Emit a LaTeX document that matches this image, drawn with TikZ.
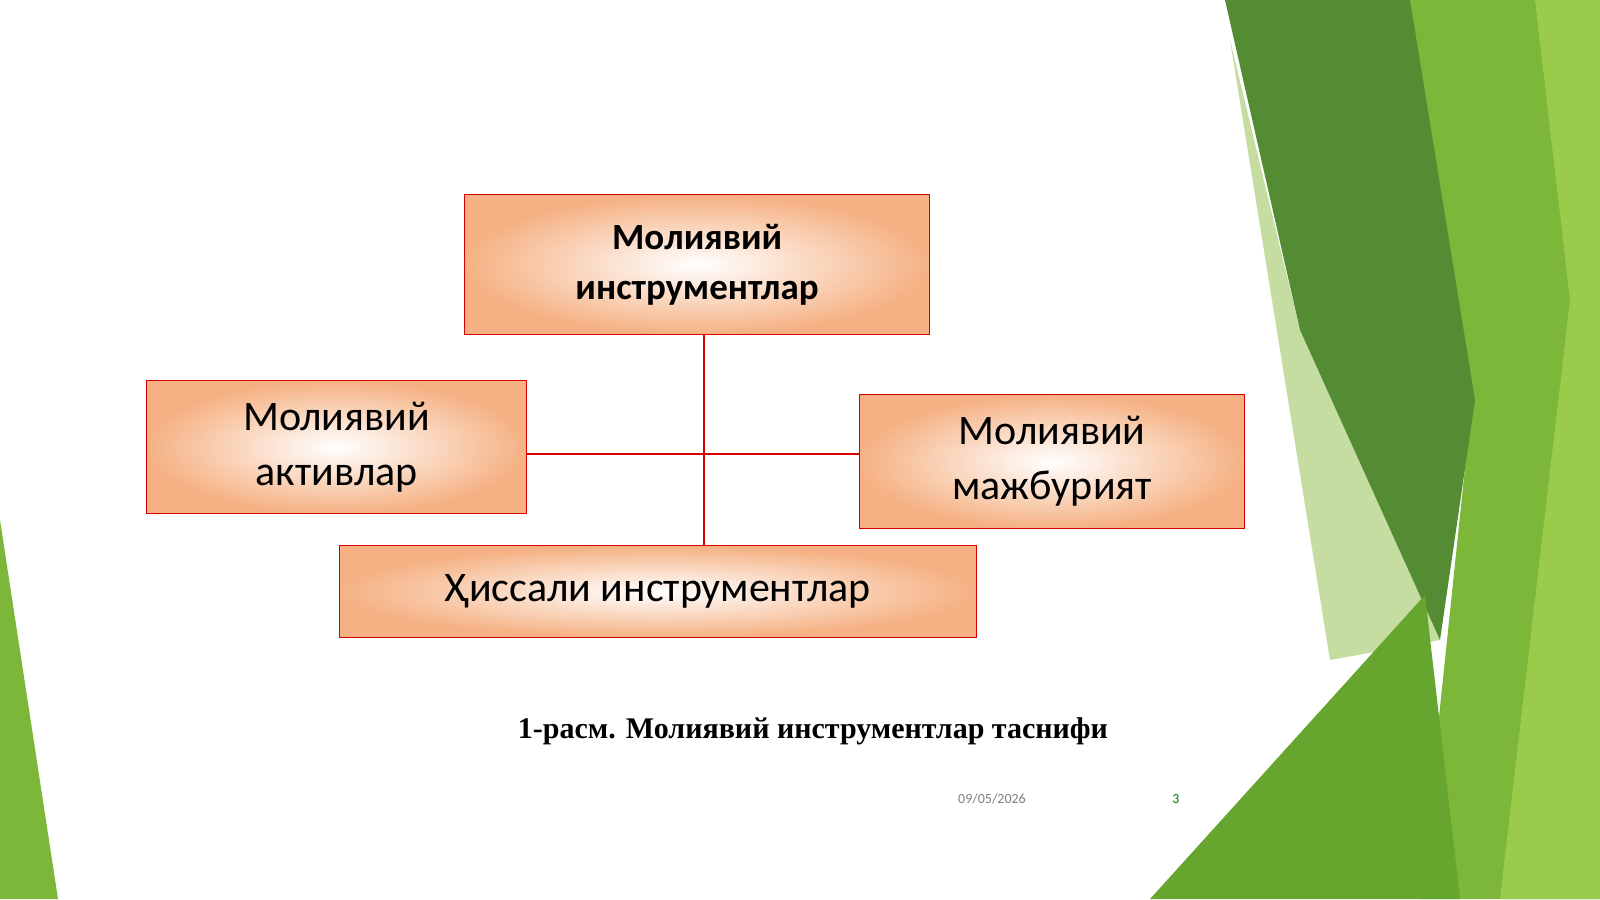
\documentclass[tikz,border=0pt]{standalone}
\usepackage{fontspec}
\setmainfont{Carlito}
\newfontfamily\capfont{Liberation Serif}
\begin{document}
\begin{tikzpicture}[x=1pt,y=-1pt,
 box/.style={draw=red!85!black,line width=1.3pt,inner color=white,outer color=peach,shading=radial,align=center,font=\fontsize{42}{55}\selectfont},
 link/.style={draw=red!85!black,line width=1.2pt}]
\definecolor{peach}{HTML}{F5B183}
\useasboundingbox (0,0) rectangle (1600,899);
\fill[white] (0,0) rectangle (1600,899);
% decorations
\fill[color={rgb,255:red,125;green,183;blue,58}] (1410,0)--(1600,0)--(1600,899)--(1420,899)--(1470,420)--cycle;
\fill[color={rgb,255:red,155;green,203;blue,74}] (1535,0)--(1600,0)--(1600,899)--(1500,899)--(1570,300)--cycle;
\fill[color={rgb,255:red,197;green,221;blue,160}] (1230,40)--(1300,330)--(1440,640)--(1330,660)--cycle;
\fill[color={rgb,255:red,84;green,140;blue,52}] (1225,0)--(1410,0)--(1475,400)--(1440,640)--(1300,330)--cycle;
\fill[color={rgb,255:red,103;green,166;blue,46}] (1150,899)--(1425,595)--(1460,899)--cycle;
\fill[color={rgb,255:red,125;green,183;blue,58}] (0,520)--(58,899)--(0,899)--cycle;
% boxes
\node[box,font=\fontsize{37}{50}\selectfont\bfseries,minimum width=465pt,minimum height=140pt,anchor=north west] (top) at (464,194) {Молиявий\\инструментлар};
\node[box,minimum width=380pt,minimum height=133pt,anchor=north west] (left) at (146,380) {Молиявий\\активлар};
\node[box,minimum width=385pt,minimum height=134pt,anchor=north west] (right) at (859,394) {Молиявий\\мажбурият};
\node[box,minimum width=637pt,minimum height=92pt,anchor=north west] (bot) at (339,545) {Ҳиссали инструментлар};
\coordinate (j) at (704,454);
\draw[link] (top.south -| j) -- (j);
\draw[link] (left.east |- j) -- (right.west |- j);
\draw[link] (j) -- (bot.north -| j);
\node[font=\capfont\bfseries\fontsize{30}{34}\selectfont] (cap) at (813,731) {1-расм. Молиявий инструментлар таснифи};
\node[text=gray,font=\fontsize{14}{16}\selectfont] (date) at (992,799) {09/05/2026};
\node[text=green!50!black,font=\fontsize{14}{16}\selectfont] (pg) at (1176,799) {3};
\end{tikzpicture}
\end{document}
